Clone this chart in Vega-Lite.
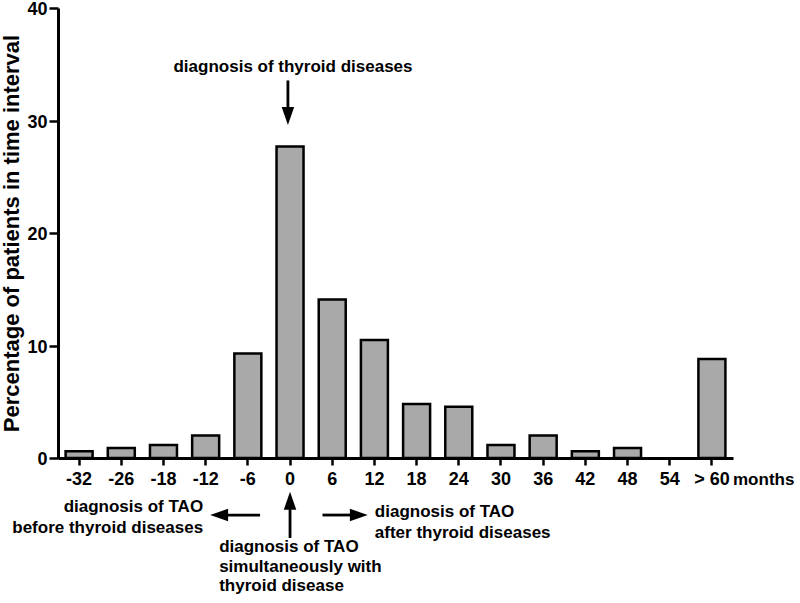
{
  "$schema": "https://vega.github.io/schema/vega-lite/v6.json",
  "width": 675,
  "height": 450,
  "autosize": {"type": "none"},
  "padding": {"left": 58, "top": 8, "right": 67, "bottom": 137},
  "background": "white",
  "config": {
    "view": {"stroke": null},
    "font": "Liberation Sans",
    "axis": {
      "domainColor": "black",
      "domainWidth": 3,
      "tickColor": "black",
      "tickWidth": 2.5,
      "labelColor": "black",
      "labelFont": "Liberation Sans",
      "labelFontWeight": "bold",
      "labelFontSize": 18,
      "titleColor": "black",
      "titleFont": "Liberation Sans",
      "titleFontWeight": "bold",
      "grid": false
    }
  },
  "datasets": {
    "bars": [
      {"interval": "-32", "percent": 0.6},
      {"interval": "-26", "percent": 0.9},
      {"interval": "-18", "percent": 1.15},
      {"interval": "-12", "percent": 2.0},
      {"interval": "-6", "percent": 9.3},
      {"interval": "0", "percent": 27.7},
      {"interval": "6", "percent": 14.1},
      {"interval": "12", "percent": 10.5},
      {"interval": "18", "percent": 4.8},
      {"interval": "24", "percent": 4.55},
      {"interval": "30", "percent": 1.15},
      {"interval": "36", "percent": 2.0},
      {"interval": "42", "percent": 0.6},
      {"interval": "48", "percent": 0.9},
      {"interval": "54", "percent": null},
      {"interval": "> 60", "percent": 8.8}
    ],
    "rules": [
      {"x1": 4.95, "x2": 4.95, "y1": 33.56, "y2": 31.0},
      {"x1": 5.0, "x2": 5.0, "y1": -7.11, "y2": -4.4},
      {"x1": 4.29, "x2": 3.45, "y1": -5.07, "y2": -5.07},
      {"x1": 5.77, "x2": 6.5, "y1": -5.07, "y2": -5.07}
    ],
    "heads": [
      {"x": 4.95, "y": 30.4, "angle": 0},
      {"x": 5.0, "y": -3.8, "angle": 180},
      {"x": 3.32, "y": -5.07, "angle": 90},
      {"x": 6.63, "y": -5.07, "angle": 270}
    ],
    "textCenter": [
      {"x": 5.07, "y": 34.76, "label": "diagnosis of thyroid diseases"}
    ],
    "textRight": [
      {"x": 2.94, "y": -4.36, "label": "diagnosis of TAO"},
      {"x": 2.94, "y": -6.22, "label": "before thyroid diseases"}
    ],
    "textLeft": [
      {"x": 3.32, "y": -7.9, "label": "diagnosis of TAO"},
      {"x": 3.32, "y": -9.65, "label": "simultaneously with"},
      {"x": 3.32, "y": -11.4, "label": "thyroid disease"},
      {"x": 7.01, "y": -4.8, "label": "diagnosis of TAO"},
      {"x": 7.01, "y": -6.67, "label": "after thyroid diseases"},
      {"x": 15.5, "y": -1.95, "label": "months"}
    ]
  },
  "layer": [
    {
      "data": {"name": "bars"},
      "mark": {"type": "bar", "fill": "#a9a9a9", "stroke": "black", "strokeWidth": 2.5},
      "encoding": {
        "x": {
          "field": "interval",
          "type": "ordinal",
          "sort": null,
          "scale": {"domain": ["-32", "-26", "-18", "-12", "-6", "0", "6", "12", "18", "24", "30", "36", "42", "48", "54", "> 60"], "paddingInner": 0.36, "paddingOuter": 0.18},
          "axis": {"title": null, "labelAngle": 0, "tickSize": 7, "labelPadding": 5}
        },
        "y": {
          "field": "percent",
          "type": "quantitative",
          "scale": {"domain": [0, 40], "nice": false},
          "axis": {"title": "Percentage of  patients  in time interval", "values": [0, 10, 20, 30, 40], "tickSize": 9, "labelPadding": 2, "labelOffset": 1.5, "titleFontSize": 22, "titlePadding": 3}
        }
      }
    },
    {
      "data": {"name": "rules"},
      "mark": {"type": "rule", "strokeWidth": 2.8, "color": "black"},
      "encoding": {
        "x": {"field": "x1", "type": "quantitative", "scale": {"domain": [-0.5, 15.5], "nice": false, "zero": false}, "axis": null},
        "x2": {"field": "x2"},
        "y": {"field": "y1", "type": "quantitative", "axis": {"title": "Percentage of  patients  in time interval", "values": [0, 10, 20, 30, 40], "tickSize": 9, "labelPadding": 2, "labelOffset": 1.5, "titleFontSize": 22, "titlePadding": 3}},
        "y2": {"field": "y2"}
      }
    },
    {
      "data": {"name": "heads"},
      "mark": {"type": "point", "shape": "M-0.7,-1L0.7,-1L0,1Z", "filled": true, "fill": "black", "size": 320, "opacity": 1},
      "encoding": {
        "x": {"field": "x", "type": "quantitative", "scale": {"domain": [-0.5, 15.5], "nice": false, "zero": false}, "axis": null},
        "y": {"field": "y", "type": "quantitative", "axis": {"title": "Percentage of  patients  in time interval", "values": [0, 10, 20, 30, 40], "tickSize": 9, "labelPadding": 2, "labelOffset": 1.5, "titleFontSize": 22, "titlePadding": 3}},
        "angle": {"field": "angle", "type": "quantitative", "scale": null}
      }
    },
    {
      "data": {"name": "textCenter"},
      "mark": {"type": "text", "align": "center", "baseline": "middle", "fontSize": 17, "fontWeight": "bold", "color": "black"},
      "encoding": {
        "x": {"field": "x", "type": "quantitative", "scale": {"domain": [-0.5, 15.5], "nice": false, "zero": false}, "axis": null},
        "y": {"field": "y", "type": "quantitative", "axis": {"title": "Percentage of  patients  in time interval", "values": [0, 10, 20, 30, 40], "tickSize": 9, "labelPadding": 2, "labelOffset": 1.5, "titleFontSize": 22, "titlePadding": 3}},
        "text": {"field": "label"}
      }
    },
    {
      "data": {"name": "textRight"},
      "mark": {"type": "text", "align": "right", "baseline": "middle", "fontSize": 17, "fontWeight": "bold", "color": "black"},
      "encoding": {
        "x": {"field": "x", "type": "quantitative", "scale": {"domain": [-0.5, 15.5], "nice": false, "zero": false}, "axis": null},
        "y": {"field": "y", "type": "quantitative", "axis": {"title": "Percentage of  patients  in time interval", "values": [0, 10, 20, 30, 40], "tickSize": 9, "labelPadding": 2, "labelOffset": 1.5, "titleFontSize": 22, "titlePadding": 3}},
        "text": {"field": "label"}
      }
    },
    {
      "data": {"name": "textLeft"},
      "mark": {"type": "text", "align": "left", "baseline": "middle", "fontSize": 17, "fontWeight": "bold", "color": "black"},
      "encoding": {
        "x": {"field": "x", "type": "quantitative", "scale": {"domain": [-0.5, 15.5], "nice": false, "zero": false}, "axis": null},
        "y": {"field": "y", "type": "quantitative", "axis": {"title": "Percentage of  patients  in time interval", "values": [0, 10, 20, 30, 40], "tickSize": 9, "labelPadding": 2, "labelOffset": 1.5, "titleFontSize": 22, "titlePadding": 3}},
        "text": {"field": "label"}
      }
    }
  ],
  "resolve": {"scale": {"x": "independent"}}
}
